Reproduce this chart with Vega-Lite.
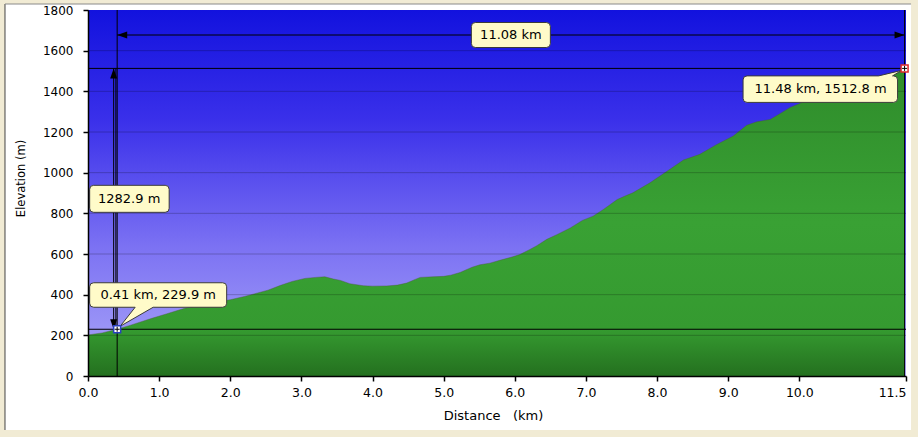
{
  "$schema": "https://vega.github.io/schema/vega-lite/v6.json",
  "width": 818,
  "height": 366,
  "autosize": {"type": "none"},
  "padding": {"left": 88, "top": 10, "right": 12, "bottom": 61},
  "background": "#f1ebd4",
  "config": {
    "font": "DejaVu Sans",
    "view": {"stroke": "#111111", "strokeWidth": 1},
    "axis": {
      "domainColor": "#000000",
      "domainWidth": 1.5,
      "tickColor": "#000000",
      "tickWidth": 1.5,
      "tickSize": 5,
      "labelColor": "#000000",
      "labelFont": "DejaVu Sans",
      "titleFont": "DejaVu Sans",
      "titleFontWeight": "normal",
      "titleColor": "#000000",
      "grid": false
    },
    "axisX": {
      "labelFontSize": 12.5,
      "labelPadding": 5,
      "labelFlush": false,
      "titleFontSize": 13,
      "titleX": 405,
      "titleY": 39,
      "titleBaseline": "middle"
    },
    "axisY": {
      "labelFontSize": 12,
      "labelPadding": 10,
      "titleFontSize": 11.5,
      "titleX": -67,
      "titleY": 168,
      "titleAngle": -90,
      "titleAlign": "center",
      "titleBaseline": "middle"
    }
  },
  "datasets": {
    "profile": [
      {"km": 0.0, "elev": 202}, {"km": 0.2, "elev": 212}, {"km": 0.41, "elev": 229.9},
      {"km": 0.6, "elev": 250}, {"km": 0.9, "elev": 284}, {"km": 1.1, "elev": 305},
      {"km": 1.36, "elev": 333}, {"km": 1.6, "elev": 350}, {"km": 1.83, "elev": 366},
      {"km": 2.0, "elev": 375}, {"km": 2.2, "elev": 391}, {"km": 2.53, "elev": 422},
      {"km": 2.7, "elev": 445}, {"km": 2.87, "elev": 465}, {"km": 3.05, "elev": 480},
      {"km": 3.2, "elev": 485}, {"km": 3.33, "elev": 488}, {"km": 3.45, "elev": 477},
      {"km": 3.55, "elev": 470}, {"km": 3.68, "elev": 454}, {"km": 3.87, "elev": 444},
      {"km": 4.0, "elev": 442}, {"km": 4.2, "elev": 443}, {"km": 4.35, "elev": 447},
      {"km": 4.48, "elev": 457}, {"km": 4.6, "elev": 475}, {"km": 4.67, "elev": 485},
      {"km": 4.85, "elev": 488}, {"km": 5.0, "elev": 490}, {"km": 5.1, "elev": 496},
      {"km": 5.23, "elev": 509}, {"km": 5.4, "elev": 535}, {"km": 5.51, "elev": 547},
      {"km": 5.65, "elev": 555}, {"km": 5.79, "elev": 569}, {"km": 5.95, "elev": 584},
      {"km": 6.07, "elev": 597}, {"km": 6.2, "elev": 620}, {"km": 6.31, "elev": 641},
      {"km": 6.45, "elev": 672}, {"km": 6.59, "elev": 695}, {"km": 6.78, "elev": 728},
      {"km": 6.95, "elev": 765}, {"km": 7.1, "elev": 786}, {"km": 7.25, "elev": 820},
      {"km": 7.44, "elev": 868}, {"km": 7.55, "elev": 885}, {"km": 7.66, "elev": 901},
      {"km": 7.9, "elev": 950}, {"km": 8.14, "elev": 1007}, {"km": 8.37, "elev": 1062},
      {"km": 8.6, "elev": 1090}, {"km": 8.84, "elev": 1139}, {"km": 9.07, "elev": 1180},
      {"km": 9.26, "elev": 1233}, {"km": 9.4, "elev": 1250}, {"km": 9.59, "elev": 1262},
      {"km": 9.75, "elev": 1295}, {"km": 9.87, "elev": 1321}, {"km": 10.04, "elev": 1345},
      {"km": 10.2, "elev": 1365}, {"km": 10.5, "elev": 1390}, {"km": 10.8, "elev": 1425},
      {"km": 11.0, "elev": 1450}, {"km": 11.27, "elev": 1470}, {"km": 11.4, "elev": 1495},
      {"km": 11.48, "elev": 1512.8}
    ],
    "gridlines": [
      {"elev": 200}, {"elev": 400}, {"elev": 600}, {"elev": 800}, {"elev": 1000},
      {"elev": 1200}, {"elev": 1400}, {"elev": 1600}
    ],
    "markers": [
      {"km": 0.41, "elev": 229.9, "kind": "start", "label": "0.41 km, 229.9 m"},
      {"km": 11.48, "elev": 1512.8, "kind": "end", "label": "11.48 km, 1512.8 m"}
    ],
    "measure": [
      {"km0": 0.41, "km1": 11.48, "e0": 229.9, "e1": 1512.8, "dist": "11.08 km", "gain": "1282.9 m"}
    ]
  },
  "layer": [
    {
      "data": {"values": [{}]},
      "mark": {"type": "rect", "fill": "#ffffff", "clip": false},
      "encoding": {
        "x": {"datum": -1.167, "type": "quantitative", "scale": {"domain": [0, 11.5], "nice": false, "zero": false}},
        "x2": {"datum": 11.571},
        "y": {"datum": -265.6, "type": "quantitative", "scale": {"domain": [0, 1800], "nice": false, "zero": false}},
        "y2": {"datum": 1829.5}
      }
    },
    {
      "data": {"values": [{}]},
      "mark": {"type": "rule", "color": "#444444", "strokeWidth": 1, "clip": false},
      "encoding": {
        "x": {"datum": -1.167, "type": "quantitative"},
        "y": {"datum": -265.6, "type": "quantitative"},
        "y2": {"datum": 1829.5}
      }
    },
    {
      "data": {"values": [{}]},
      "mark": {"type": "rule", "color": "#8a8a8a", "strokeWidth": 1, "clip": false},
      "encoding": {
        "x": {"datum": -1.167, "type": "quantitative"},
        "x2": {"datum": 11.571},
        "y": {"datum": 1829.5, "type": "quantitative"}
      }
    },
    {
      "data": {"values": [{}]},
      "mark": {
        "type": "rect",
        "clip": false,
        "color": {
          "gradient": "linear", "x1": 0, "y1": 0, "x2": 0, "y2": 1,
          "stops": [
            {"offset": 0, "color": "#1212de"},
            {"offset": 0.3, "color": "#3a30ea"},
            {"offset": 0.65, "color": "#7c72f3"},
            {"offset": 1, "color": "#aca8f8"}
          ]
        }
      },
      "encoding": {
        "x": {"datum": 0, "type": "quantitative"},
        "x2": {"datum": 11.5},
        "y": {"datum": 0, "type": "quantitative"},
        "y2": {"datum": 1800}
      }
    },
    {
      "data": {"name": "profile"},
      "mark": {
        "type": "area",
        "line": {"color": "#4a5a34", "strokeWidth": 1, "opacity": 0.4},
        "color": {
          "gradient": "linear", "x1": 0, "y1": 0, "x2": 0, "y2": 1,
          "stops": [
            {"offset": 0, "color": "#2f8c2b"},
            {"offset": 0.5, "color": "#39a134"},
            {"offset": 0.85, "color": "#359a30"},
            {"offset": 1, "color": "#24701f"}
          ]
        },
        "opacity": 1
      },
      "encoding": {
        "x": {
          "field": "km", "type": "quantitative",
          "scale": {"domain": [0, 11.5], "nice": false, "zero": false},
          "axis": {
            "zindex": 1,
            "title": "Distance\u00a0\u00a0\u00a0(km)",
            "values": [0, 1, 2, 3, 4, 5, 6, 7, 8, 9, 10, 11.5],
            "format": ".1f",
            "labelAlign": {"condition": {"test": "datum.value === 11.5", "value": "right"}, "value": "center"}
          }
        },
        "y": {
          "field": "elev", "type": "quantitative",
          "scale": {"domain": [0, 1800], "nice": false, "zero": false},
          "axis": {
            "zindex": 1,
            "title": "Elevation (m)",
            "format": "d",
            "values": [0, 200, 400, 600, 800, 1000, 1200, 1400, 1600, 1800]
          }
        }
      }
    },
    {
      "data": {"name": "gridlines"},
      "mark": {"type": "rule", "color": "#000000", "strokeWidth": 1, "opacity": 0.22},
      "encoding": {"y": {"field": "elev", "type": "quantitative"}}
    },
    {
      "data": {"name": "markers"},
      "mark": {"type": "rule", "color": "#000000", "strokeWidth": 1},
      "encoding": {"x": {"field": "km", "type": "quantitative"}}
    },
    {
      "data": {"name": "markers"},
      "mark": {"type": "rule", "color": "#000000", "strokeWidth": 1},
      "encoding": {"y": {"field": "elev", "type": "quantitative"}}
    },
    {
      "data": {"name": "measure"},
      "mark": {"type": "rule", "color": "#000000", "strokeWidth": 1},
      "encoding": {
        "x": {"field": "km0", "type": "quantitative"},
        "x2": {"field": "km1"},
        "y": {"datum": 1677, "type": "quantitative"}
      }
    },
    {
      "data": {"name": "measure"},
      "mark": {"type": "rule", "color": "#000000", "strokeWidth": 1, "xOffset": -3.5},
      "encoding": {
        "x": {"field": "km0", "type": "quantitative"},
        "y": {"field": "e0", "type": "quantitative"},
        "y2": {"field": "e1"}
      }
    },
    {
      "data": {"name": "measure"},
      "mark": {"type": "rule", "color": "#000000", "strokeWidth": 1, "xOffset": -1.3},
      "encoding": {
        "x": {"field": "km0", "type": "quantitative"},
        "y": {"field": "e0", "type": "quantitative"},
        "y2": {"field": "e1"}
      }
    },
    {
      "data": {"name": "measure"},
      "mark": {"type": "point", "shape": "M0,0L10,-3.5L10,3.5Z", "size": 4, "filled": true, "color": "#000000", "opacity": 1},
      "encoding": {
        "x": {"field": "km0", "type": "quantitative"},
        "y": {"datum": 1677, "type": "quantitative"}
      }
    },
    {
      "data": {"name": "measure"},
      "mark": {"type": "point", "shape": "M0,0L-10,-3.5L-10,3.5Z", "size": 4, "filled": true, "color": "#000000", "opacity": 1},
      "encoding": {
        "x": {"field": "km1", "type": "quantitative"},
        "y": {"datum": 1677, "type": "quantitative"}
      }
    },
    {
      "data": {"name": "measure"},
      "mark": {"type": "point", "shape": "M-3.5,0L-7,10L0,10Z", "size": 4, "filled": true, "color": "#000000", "opacity": 1},
      "encoding": {
        "x": {"field": "km0", "type": "quantitative"},
        "y": {"field": "e1", "type": "quantitative"}
      }
    },
    {
      "data": {"name": "measure"},
      "mark": {"type": "point", "shape": "M-3.5,0L-7,-10L0,-10Z", "size": 4, "filled": true, "color": "#000000", "opacity": 1},
      "encoding": {
        "x": {"field": "km0", "type": "quantitative"},
        "y": {"field": "e0", "type": "quantitative"}
      }
    },
    {
      "data": {"name": "measure"},
      "transform": [{"calculate": "(datum.km0 + datum.km1) / 2", "as": "kmMid"}],
      "mark": {
        "type": "point",
        "shape": "M-35.5,-12.5H35.5Q39.5,-12.5 39.5,-8.5V8.5Q39.5,12.5 35.5,12.5H-35.5Q-39.5,12.5 -39.5,8.5V-8.5Q-39.5,-12.5 -35.5,-12.5Z",
        "size": 4, "filled": true, "fill": "#fffbc9", "stroke": "#3b3b3b", "strokeWidth": 1, "opacity": 1
      },
      "encoding": {
        "x": {"field": "kmMid", "type": "quantitative"},
        "y": {"datum": 1677, "type": "quantitative"}
      }
    },
    {
      "data": {"name": "measure"},
      "transform": [{"calculate": "(datum.km0 + datum.km1) / 2", "as": "kmMid"}],
      "mark": {"type": "text", "fontSize": 13, "font": "DejaVu Sans", "color": "#000000", "align": "center", "baseline": "middle"},
      "encoding": {
        "x": {"field": "kmMid", "type": "quantitative"},
        "y": {"datum": 1677, "type": "quantitative"},
        "text": {"field": "dist"}
      }
    },
    {
      "data": {"name": "measure"},
      "transform": [{"calculate": "(datum.e0 + datum.e1) / 2", "as": "eMid"}],
      "mark": {
        "type": "point",
        "shape": "M-23.5,-13.5H48Q52,-13.5 52,-9.5V9.5Q52,13.5 48,13.5H-23.5Q-27.5,13.5 -27.5,9.5V-9.5Q-27.5,-13.5 -23.5,-13.5Z",
        "size": 4, "filled": true, "fill": "#fffbc9", "stroke": "#3b3b3b", "strokeWidth": 1, "opacity": 1
      },
      "encoding": {
        "x": {"field": "km0", "type": "quantitative"},
        "y": {"field": "eMid", "type": "quantitative"}
      }
    },
    {
      "data": {"name": "measure"},
      "transform": [{"calculate": "(datum.e0 + datum.e1) / 2", "as": "eMid"}],
      "mark": {"type": "text", "dx": 12, "fontSize": 13, "font": "DejaVu Sans", "color": "#000000", "align": "center", "baseline": "middle"},
      "encoding": {
        "x": {"field": "km0", "type": "quantitative"},
        "y": {"field": "eMid", "type": "quantitative"},
        "text": {"field": "gain"}
      }
    },
    {
      "data": {"name": "markers"},
      "transform": [{"filter": "datum.kind === 'start'"}],
      "mark": {
        "type": "point",
        "shape": "M-23.5,-46.5H105.5Q109.5,-46.5 109.5,-42.5V-26Q109.5,-22 105.5,-22H36L3,-3L18,-22H-23.5Q-27.5,-22 -27.5,-26V-42.5Q-27.5,-46.5 -23.5,-46.5Z",
        "size": 4, "filled": true, "fill": "#fffbc9", "stroke": "#3b3b3b", "strokeWidth": 1, "opacity": 1
      },
      "encoding": {
        "x": {"field": "km", "type": "quantitative"},
        "y": {"field": "elev", "type": "quantitative"}
      }
    },
    {
      "data": {"name": "markers"},
      "transform": [{"filter": "datum.kind === 'start'"}],
      "mark": {"type": "text", "dx": 41, "dy": -34, "fontSize": 13, "font": "DejaVu Sans", "color": "#000000", "align": "center", "baseline": "middle"},
      "encoding": {
        "x": {"field": "km", "type": "quantitative"},
        "y": {"field": "elev", "type": "quantitative"},
        "text": {"field": "label"}
      }
    },
    {
      "data": {"name": "markers"},
      "transform": [{"filter": "datum.kind === 'end'"}],
      "mark": {
        "type": "point",
        "shape": "M-157.5,7.5H-26L-3,2L-12,7.5H-11Q-7,7.5 -7,11.5V30Q-7,34 -11,34H-157.5Q-161.5,34 -161.5,30V11.5Q-161.5,7.5 -157.5,7.5Z",
        "size": 4, "filled": true, "fill": "#fffbc9", "stroke": "#3b3b3b", "strokeWidth": 1, "opacity": 1
      },
      "encoding": {
        "x": {"field": "km", "type": "quantitative"},
        "y": {"field": "elev", "type": "quantitative"}
      }
    },
    {
      "data": {"name": "markers"},
      "transform": [{"filter": "datum.kind === 'end'"}],
      "mark": {"type": "text", "dx": -84, "dy": 21, "fontSize": 13, "font": "DejaVu Sans", "color": "#000000", "align": "center", "baseline": "middle"},
      "encoding": {
        "x": {"field": "km", "type": "quantitative"},
        "y": {"field": "elev", "type": "quantitative"},
        "text": {"field": "label"}
      }
    },
    {
      "data": {"name": "markers"},
      "mark": {"type": "point", "shape": "square", "size": 49, "filled": true, "fill": "#ffffff", "strokeWidth": 1.5, "opacity": 1},
      "encoding": {
        "x": {"field": "km", "type": "quantitative"},
        "y": {"field": "elev", "type": "quantitative"},
        "stroke": {"field": "kind", "type": "nominal", "scale": {"domain": ["start", "end"], "range": ["#2840c0", "#e02828"]}, "legend": null}
      }
    },
    {
      "data": {"name": "markers"},
      "mark": {"type": "point", "shape": "M-2.5,0H2.5M0,-2.5V2.5", "size": 4, "filled": false, "stroke": "#000000", "strokeWidth": 1, "opacity": 1},
      "encoding": {
        "x": {"field": "km", "type": "quantitative"},
        "y": {"field": "elev", "type": "quantitative"}
      }
    }
  ]
}
